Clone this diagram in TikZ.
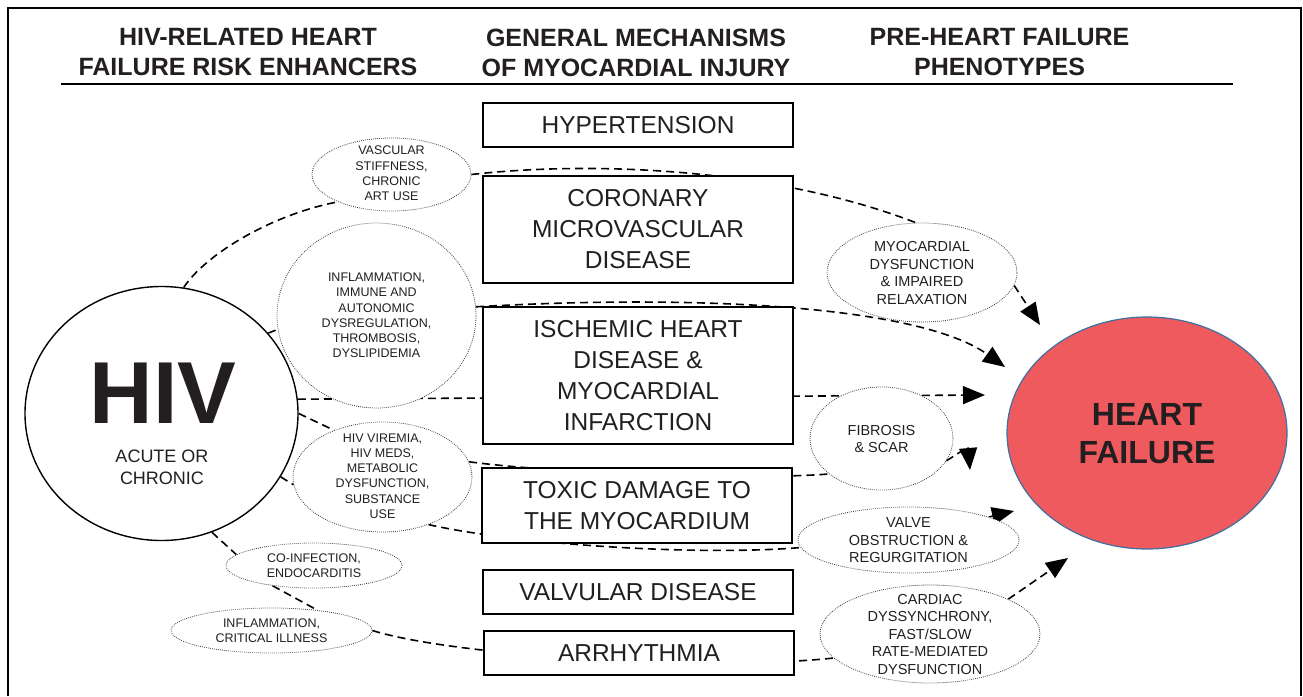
\documentclass[tikz,border=0pt]{standalone}
\usepackage{fontspec}
\setmainfont{Liberation Sans}
\usetikzlibrary{arrows.meta}
\usetikzlibrary{shapes.geometric}
\usetikzlibrary{backgrounds}

\definecolor{hfred}{RGB}{239,90,94}
\definecolor{hfblue}{RGB}{62,112,160}
\definecolor{hfdark}{RGB}{35,31,32}
\definecolor{dotgray}{RGB}{60,60,60}

\begin{document}
\begin{tikzpicture}[x=1pt,y=-1pt,
  mech/.style={draw,line width=1.3pt,fill=white,minimum width=310pt,inner sep=0pt,align=center,
    text=hfdark,font=\fontsize{24.5}{31}\selectfont},
  oval/.style={ellipse,draw=dotgray,dash pattern=on 0.8pt off 1.2pt,line width=0.8pt,fill=white,inner sep=0pt},
  risktxt/.style={align=center,inner sep=0pt,text=hfdark,font=\fontsize{12.5}{15.2}\selectfont},
  phenotxt/.style={align=center,inner sep=0pt,text=hfdark,font=\fontsize{14.5}{17.5}\selectfont},
  head/.style={align=center,inner sep=0pt,text=hfdark,font=\bfseries\fontsize{25}{30}\selectfont},
  link/.style={dash pattern=on 8pt off 5pt,line width=1.6pt},
  arr/.style={link,-{Triangle[length=22pt,width=18pt]}}]
\useasboundingbox (0,0) rectangle (1303,696);

% frame and headings
\draw[line width=2pt] (7.5,696) -- (7.5,8) -- (1300.5,8) -- (1300.5,696);
\node[head] (h1) at (248,52.5) {HIV-RELATED HEART\\FAILURE RISK ENHANCERS};
\node[head] (h2) at (636,52.5) {GENERAL MECHANISMS\\OF MYOCARDIAL INJURY};
\node[head] (h3) at (999.5,52.5) {PRE-HEART FAILURE\\PHENOTYPES};
\draw[line width=1.2pt] (61,84) -- (1233,84);

% mechanisms
\node[mech,minimum height=44pt] (hyp) at (638,125) {HYPERTENSION};
\node[mech,minimum height=107pt] (cmd) at (638,229.5) {CORONARY\\MICROVASCULAR\\DISEASE};
\node[mech,minimum height=137pt] (ihd) at (638,375.5) {ISCHEMIC HEART\\DISEASE \&\\MYOCARDIAL\\INFARCTION};
\node[mech,minimum height=75pt] (tox) at (637,505.5) {TOXIC DAMAGE TO\\THE MYOCARDIUM};
\node[mech,minimum height=44pt] (vlv) at (638,592) {VALVULAR DISEASE};
\node[mech,minimum height=44pt] (arr) at (639,653) {ARRHYTHMIA};

% HIV
\node[ellipse,draw,line width=1.4pt,fill=white,minimum width=273pt,minimum height=254pt,inner sep=0pt] (hiv) at (161.5,413.5) {};
\node[inner sep=0pt,text=hfdark,font=\bfseries\fontsize{88}{90}\selectfont] (hivtxt) at (163,393.3) {HIV};
\node[align=center,inner sep=0pt,text=hfdark,font=\fontsize{18}{21.7}\selectfont] (hivsub) at (162,467.5) {ACUTE OR\\CHRONIC};

% heart failure
\node[ellipse,draw=hfblue,line width=1.2pt,fill=hfred,minimum width=280pt,minimum height=232pt,inner sep=0pt] (hf) at (1147,433) {};
\node[align=center,inner sep=0pt,text=hfdark,font=\bfseries\fontsize{32}{38}\selectfont] (hftxt) at (1147,434) {HEART\\FAILURE};

% risk enhancers
\node[oval,minimum width=159pt,minimum height=73pt] (vsc) at (391.5,174.5) {};
\node[risktxt] (vsctxt) at (391.5,173.3) {VASCULAR\\STIFFNESS,\\CHRONIC\\ART USE};
\node[oval,minimum width=199pt,minimum height=185pt] (inf) at (376.5,315.5) {};
\node[risktxt] (inftxt) at (376.5,315.4) {INFLAMMATION,\\IMMUNE AND\\AUTONOMIC\\DYSREGULATION,\\THROMBOSIS,\\DYSLIPIDEMIA};
\node[oval,minimum width=179pt,minimum height=110pt] (vir) at (382.5,477) {};
\node[risktxt] (virtxt) at (382.5,476) {HIV VIREMIA,\\HIV MEDS,\\METABOLIC\\DYSFUNCTION,\\SUBSTANCE\\USE};
\node[oval,minimum width=176pt,minimum height=45pt] (cof) at (314,565.5) {};
\node[risktxt] (coftxt) at (314,565.5) {CO-INFECTION,\\ENDOCARDITIS};
\node[oval,minimum width=201pt,minimum height=45pt] (cri) at (271.5,630.5) {};
\node[risktxt] (critxt) at (271.5,630.8) {INFLAMMATION,\\CRITICAL ILLNESS};

% phenotypes
\node[oval,minimum width=190pt,minimum height=99pt] (myo) at (922,272.5) {};
\node[phenotxt] (myotxt) at (922,273) {MYOCARDIAL\\DYSFUNCTION\\\& IMPAIRED\\RELAXATION};
\node[oval,minimum width=143pt,minimum height=103pt] (fib) at (881.5,438.5) {};
\node[phenotxt] (fibtxt) at (881.5,439) {FIBROSIS\\\& SCAR};
\node[oval,minimum width=221pt,minimum height=66pt] (vlo) at (908.5,540) {};
\node[phenotxt] (vlotxt) at (908.5,540.5) {VALVE\\OBSTRUCTION \&\\REGURGITATION};
\node[oval,minimum width=220pt,minimum height=98pt] (cds) at (930,634) {};
\node[phenotxt] (cdstxt) at (930,634) {CARDIAC\\DYSSYNCHRONY,\\FAST/SLOW\\RATE-MEDIATED\\DYSFUNCTION};

% arrow tips in front of heart failure
\coordinate (tipA) at (1040,325);
\coordinate (tipB) at (1005,367);
\coordinate (tipC) at (985,395);
\coordinate (bendD) at (968,447);
\coordinate (tipD) at (970,470);
\coordinate (tipE) at (1014,511);
\coordinate (tipF) at (1068,558);

% dashed links, behind the boxes
\begin{scope}[on background layer]
\draw[link] (hiv.80) .. controls (205,255) and (270,215) .. (vsc.207);
\draw[link] (vsc.east) .. controls (600,160) and (780,170) .. (myo.97);
\draw[arr] (myo.-8) -- (tipA);
\draw[link] (hiv.37) -- (inf.188);
\draw[arr] (inf.5) .. controls (700,294) and (920,306) .. (tipB);
\draw[arr] (hiv.6.5) -- (tipC);
\draw[link] (hiv.0) -- (vir.136);
\draw[link] (vir.10) .. controls (560,474) and (760,480) .. (fib.214);
\draw[arr] (fib.-19) -- (bendD) -- (tipD);
\draw[link] (hiv.-28) -- (vir.185);
\draw[link] (vir.-46) .. controls (520,545) and (700,556) .. (vlo.184);
\draw[arr] (vlo.16) -- (tipE);
\draw[link] (hiv.-67) -- (cof.172);
\draw[link] (cof.206) -- (cri.24);
\draw[link] (cri.east) .. controls (450,655) and (700,672) .. (cds.194);
\draw[arr] (cds.24) -- (tipF);
\end{scope}
\end{tikzpicture}
\end{document}
